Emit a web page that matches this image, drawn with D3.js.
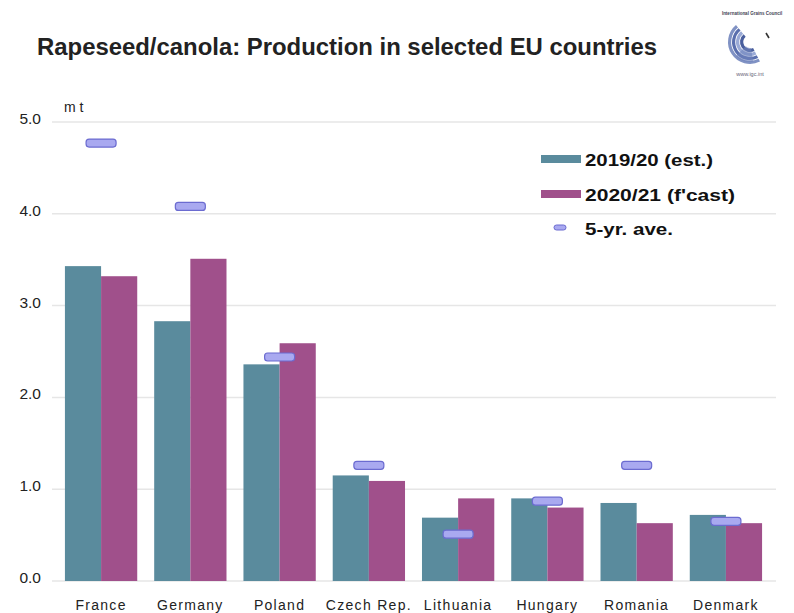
<!DOCTYPE html>
<html><head><meta charset="utf-8">
<script src="https://cdn.jsdelivr.net/npm/d3@7"></script>
<style>body{margin:0;background:#fff}svg{display:block}</style>
</head><body>
<script>
const categories = ["France","Germany","Poland","Czech Rep.","Lithuania","Hungary","Romania","Denmark"];
const est2019 = [3.43,2.83,2.36,1.15,0.69,0.90,0.85,0.72];
const fcast2020 = [3.32,3.51,2.59,1.09,0.90,0.80,0.63,0.63];
const avg5yr = [4.77,4.08,2.44,1.26,0.51,0.87,1.26,0.65];
const yTicks = [0,1,2,3,4,5];
const seriesNames = ["2019/20 (est.)","2020/21 (f'cast)","5-yr. ave."];

const W=794,H=613;
const font="Arial, Liberation Sans, sans-serif";
const svg=d3.select("body").append("svg").attr("width",W).attr("height",H);
const x=d3.scaleBand().domain(categories).range([56,771]).paddingInner(0.19).paddingOuter(0.1);
const y=d3.scaleLinear().domain([0,5]).range([581,122]);
const xs=d3.scaleBand().domain([0,1]).range([0,x.bandwidth()]);

// grid
svg.append("g").selectAll("line").data(yTicks).join("line")
 .attr("x1",52).attr("x2",776).attr("y1",d=>y(d)).attr("y2",d=>y(d))
 .attr("stroke","#e6e6e6").attr("stroke-width",1.5);

// y axis labels
const ya=svg.append("g").attr("transform","translate(41,0)")
 .call(d3.axisLeft(y).tickValues(yTicks).tickFormat(d3.format(".1f")).tickSize(0).tickPadding(0));
ya.select(".domain").remove();
ya.selectAll("text").attr("font-family",font).attr("font-size",15.5).attr("fill","#222").attr("dy","0.1em");

svg.append("text").attr("x",64).attr("y",112).text("m t")
 .attr("font-family",font).attr("font-size",14).attr("fill","#222");

// bars
const colors=["#5a8b9d","#a0508b"];
[est2019,fcast2020].forEach((s,i)=>{
 svg.append("g").selectAll("rect").data(s).join("rect")
  .attr("x",(d,j)=>x(categories[j])+xs(i)).attr("width",xs.bandwidth())
  .attr("y",d=>y(d)).attr("height",d=>y(0)-y(d)).attr("fill",colors[i]);
});

// 5-yr markers
svg.append("g").selectAll("rect").data(avg5yr).join("rect")
 .attr("x",(d,j)=>x(categories[j])+x.bandwidth()/2-15).attr("width",30)
 .attr("y",d=>y(d)-4).attr("height",8).attr("rx",3)
 .attr("fill","#a9a9f0").attr("stroke","#6b6bd0").attr("stroke-width",1.2);

// x labels
svg.append("g").selectAll("text").data(categories).join("text")
 .attr("x",d=>x(d)+x.bandwidth()/2).attr("y",610).attr("text-anchor","middle")
 .attr("font-family",font).attr("font-size",14)
 .attr("letter-spacing","1.3px").attr("fill","#222").text(d=>d);

// legend
const lg=svg.append("g").attr("font-family",font)
 .attr("font-size",16).attr("font-weight","bold").attr("fill","#111");
const legLen=[128,150,88];
[0,1].forEach(i=>{
 lg.append("rect").attr("x",541).attr("y",155+i*35).attr("width",40).attr("height",8).attr("fill",colors[i]);
 lg.append("text").attr("x",585).attr("y",166+i*35).text(seriesNames[i])
  .attr("textLength",legLen[i]).attr("lengthAdjust","spacingAndGlyphs");
});
lg.append("rect").attr("x",554).attr("y",225).attr("width",12).attr("height",5).attr("rx",2.5)
 .attr("fill","#a9a9f0").attr("stroke","#6b6bd0").attr("stroke-width",1);
lg.append("text").attr("x",585).attr("y",235).text(seriesNames[2])
 .attr("textLength",legLen[2]).attr("lengthAdjust","spacingAndGlyphs");

// title
svg.append("text").attr("x",37).attr("y",55).text("Rapeseed/canola: Production in selected EU countries")
 .attr("font-family",font).attr("font-size",23).attr("font-weight","bold")
 .attr("fill","#222").attr("textLength",620).attr("lengthAdjust","spacingAndGlyphs");

// logo
const logo=svg.append("g").attr("transform","translate(750,42)");
logo.append("text").attr("x",2).attr("y",-27).attr("text-anchor","middle").attr("font-size",4.5)
 .attr("font-family",font).attr("font-weight","bold").attr("fill","#445").text("International Grains Council");
[22,18,14,10].forEach((r,i)=>{
 logo.append("path").attr("d",d3.arc()({innerRadius:r-3.2,outerRadius:r,startAngle:-0.22*Math.PI,endAngle:-1.15*Math.PI}))
  .attr("fill",["#8092c4","#5a6fae","#9aaad6","#4a5f9e"][i]);
});
logo.append("path").attr("d",d3.arc()({innerRadius:6,outerRadius:20,startAngle:-1.05*Math.PI,endAngle:-0.75*Math.PI}))
 .attr("fill","#6f83bd").attr("opacity",0.6);
logo.append("path").attr("d","M16,-9 L19,-4").attr("stroke","#333").attr("stroke-width",1.6);
logo.append("text").attr("x",0).attr("y",34).attr("text-anchor","middle").attr("font-size",5.5)
 .attr("font-family",font).attr("fill","#667").text("www.igc.int");
</script>
</body></html>
